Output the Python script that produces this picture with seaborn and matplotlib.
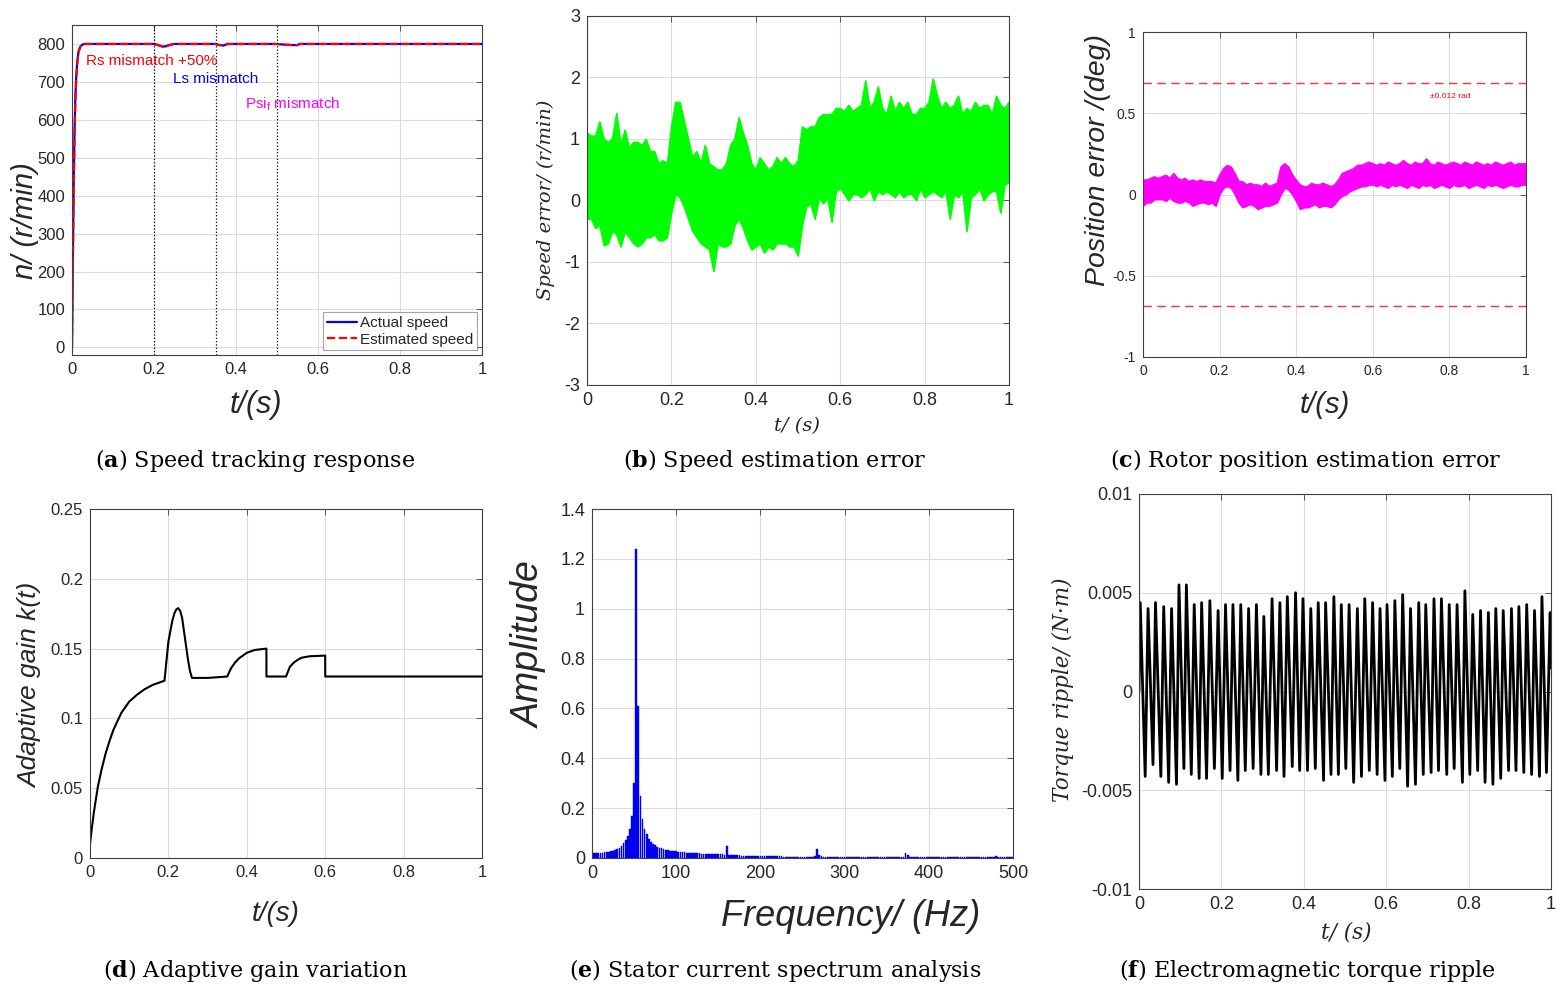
import numpy as np
import pandas as pd
import matplotlib
matplotlib.use("Agg")
import matplotlib.pyplot as plt
import seaborn as sns
from matplotlib.ticker import FuncFormatter

# ---- data ----
# (a) speed tracking
t_speed = [0, 0.002, 0.004, 0.006, 0.008, 0.010, 0.013, 0.016, 0.020, 0.025, 0.030, 0.040,
           0.200, 0.210, 0.220, 0.230, 0.240, 0.250,
           0.350, 0.360, 0.370, 0.380,
           0.500, 0.520, 0.540, 0.550, 0.555, 1.000]
actual_speed = [0, 230, 420, 560, 650, 710, 755, 780, 793, 798, 800, 800,
                800, 797, 793, 794, 798, 800,
                800, 797, 796, 800,
                800, 798, 797, 797, 800, 800]
estimated_speed = [0, 200, 390, 540, 640, 700, 750, 778, 792, 798, 800, 800,
                   800, 797, 794, 795, 798, 800,
                   800, 797, 797, 800,
                   800, 798, 797, 797, 800, 800]
event_times = [0.2, 0.35, 0.5]

# (b) speed error, upper / lower envelope every 0.01 s
t_env = np.round(np.linspace(0, 1, 101), 2)
speed_err_upper = [1.10, 1.05, 1.05, 1.28, 1.00, 0.95, 1.00, 1.42, 0.90, 1.15,
                   0.85, 0.95, 0.95, 0.90, 1.00, 0.80, 0.80, 0.60, 0.65, 0.60,
                   1.20, 1.60, 1.60, 1.30, 1.00, 0.70, 0.80, 0.60, 0.90, 0.60,
                   0.55, 0.50, 0.50, 0.60, 0.90, 1.00, 1.35, 1.10, 0.90, 0.60,
                   0.50, 0.70, 0.60, 0.50, 0.55, 0.70, 0.60, 0.70, 0.60, 0.55,
                   0.65, 1.20, 1.15, 1.20, 1.20, 1.35, 1.40, 1.40, 1.40, 1.50,
                   1.50, 1.45, 1.55, 1.45, 1.50, 1.55, 1.95, 1.50, 1.60, 1.85,
                   1.50, 1.40, 1.70, 1.45, 1.60, 1.50, 1.60, 1.40, 1.40, 1.50,
                   1.50, 1.60, 1.98, 1.70, 1.50, 1.60, 1.50, 1.55, 1.70, 1.40,
                   1.50, 1.45, 1.60, 1.50, 1.55, 1.55, 1.40, 1.70, 1.55, 1.50,
                   1.60]
speed_err_lower = [-0.30, -0.30, -0.45, -0.40, -0.73, -0.70, -0.50, -0.55, -0.75, -0.50,
                   -0.60, -0.70, -0.75, -0.70, -0.60, -0.60, -0.55, -0.65, -0.65, -0.60,
                   -0.20, 0.10, 0.05, -0.10, -0.30, -0.50, -0.60, -0.70, -0.75, -0.80,
                   -1.15, -0.70, -0.75, -0.75, -0.70, -0.40, -0.30, -0.45, -0.65, -0.80,
                   -0.75, -0.70, -0.85, -0.75, -0.80, -0.70, -0.70, -0.70, -0.75, -0.75,
                   -0.90, -0.40, -0.10, -0.05, -0.30, 0.05, -0.05, 0.05, -0.35, 0.15,
                   0.20, 0.10, 0.00, 0.10, 0.10, 0.05, 0.10, 0.20, 0.00, 0.15,
                   0.10, 0.15, 0.10, 0.05, 0.15, 0.05, 0.10, 0.10, 0.00, 0.20,
                   0.05, 0.10, 0.15, 0.10, 0.05, 0.15, -0.30, 0.10, 0.05, 0.15,
                   -0.50, 0.05, 0.10, 0.20, 0.00, 0.10, 0.15, 0.15, -0.20, 0.25,
                   0.30]

# (c) position error envelope every 0.01 s
pos_err_upper = [0.09, 0.09, 0.10, 0.11, 0.10, 0.11, 0.12, 0.10, 0.13, 0.10,
                 0.09, 0.10, 0.08, 0.09, 0.08, 0.09, 0.08, 0.08, 0.08, 0.07,
                 0.12, 0.16, 0.18, 0.17, 0.13, 0.08, 0.08, 0.06, 0.07, 0.06,
                 0.06, 0.05, 0.07, 0.05, 0.06, 0.07, 0.17, 0.19, 0.17, 0.12,
                 0.09, 0.06, 0.05, 0.05, 0.07, 0.06, 0.06, 0.07, 0.06, 0.05,
                 0.06, 0.09, 0.13, 0.14, 0.15, 0.16, 0.18, 0.18, 0.19, 0.20,
                 0.19, 0.18, 0.19, 0.18, 0.20, 0.19, 0.18, 0.19, 0.21, 0.19,
                 0.18, 0.20, 0.19, 0.19, 0.22, 0.19, 0.18, 0.20, 0.19, 0.18,
                 0.19, 0.20, 0.19, 0.18, 0.20, 0.19, 0.18, 0.20, 0.19, 0.18,
                 0.19, 0.18, 0.20, 0.19, 0.18, 0.19, 0.20, 0.18, 0.19, 0.19,
                 0.19]
pos_err_lower = [-0.07, -0.05, -0.05, -0.03, -0.03, -0.03, -0.04, -0.02, -0.04, -0.05,
                 -0.05, -0.04, -0.05, -0.07, -0.06, -0.05, -0.05, -0.06, -0.05, -0.07,
                 0.00, 0.04, 0.05, 0.04, 0.00, -0.05, -0.08, -0.07, -0.06, -0.07,
                 -0.09, -0.08, -0.07, -0.07, -0.06, -0.05, 0.00, 0.04, 0.03, 0.00,
                 -0.04, -0.09, -0.08, -0.08, -0.07, -0.06, -0.08, -0.07, -0.07, -0.08,
                 -0.06, -0.03, -0.01, 0.00, 0.02, 0.03, 0.04, 0.05, 0.05, 0.06,
                 0.06, 0.05, 0.06, 0.05, 0.04, 0.06, 0.05, 0.06, 0.05, 0.04,
                 0.06, 0.05, 0.04, 0.06, 0.05, 0.06, 0.04, 0.05, 0.06, 0.05,
                 0.04, 0.06, 0.05, 0.05, 0.06, 0.04, 0.05, 0.06, 0.05, 0.04,
                 0.06, 0.05, 0.06, 0.05, 0.04, 0.05, 0.06, 0.05, 0.05, 0.06,
                 0.06]
pos_limit = 0.6875  # 0.012 rad in deg

# (d) adaptive gain
t_gain = [0, 0.005, 0.01, 0.02, 0.03, 0.04, 0.05, 0.06, 0.07, 0.08, 0.09, 0.10, 0.12, 0.14, 0.16, 0.19,
          0.20, 0.21, 0.215, 0.22, 0.225, 0.23, 0.235, 0.24, 0.245, 0.25, 0.255, 0.26,
          0.30, 0.35, 0.36, 0.37, 0.38, 0.39, 0.40, 0.42, 0.45, 0.4501,
          0.50, 0.51, 0.52, 0.53, 0.54, 0.56, 0.60, 0.6001, 1.0]
gain = [0.010, 0.022, 0.033, 0.051, 0.064, 0.075, 0.084, 0.092, 0.098, 0.104, 0.108, 0.112, 0.117, 0.121, 0.124, 0.127,
        0.155, 0.170, 0.175, 0.178, 0.179, 0.177, 0.172, 0.162, 0.152, 0.142, 0.134, 0.129,
        0.129, 0.130, 0.136, 0.140, 0.143, 0.145, 0.147, 0.149, 0.150, 0.130,
        0.130, 0.137, 0.140, 0.142, 0.1435, 0.1445, 0.145, 0.130, 0.130]

# (e) stator current spectrum, 2.5 Hz bins 0..500 Hz
freq = np.arange(0, 500.1, 2.5)
amplitude = [0.020, 0.020, 0.020, 0.021, 0.021, 0.022, 0.023, 0.024, 0.025, 0.027,
             0.030, 0.033, 0.037, 0.042, 0.050, 0.060, 0.072, 0.088, 0.118, 0.170,
             0.300, 1.240, 0.610, 0.250, 0.158, 0.115, 0.095, 0.078, 0.066, 0.058,
             0.051, 0.046, 0.042, 0.039, 0.036, 0.034, 0.032, 0.030, 0.029, 0.028,
             0.027, 0.026, 0.025, 0.024, 0.023, 0.022, 0.022, 0.021, 0.020, 0.020,
             0.019, 0.019, 0.018, 0.018, 0.017, 0.017, 0.016, 0.016, 0.016, 0.015,
             0.015, 0.015, 0.015, 0.014, 0.048, 0.013, 0.012, 0.012, 0.011, 0.011,
             0.011, 0.010, 0.010, 0.010, 0.010, 0.009, 0.009, 0.009, 0.009, 0.009,
             0.008, 0.008, 0.008, 0.008, 0.007, 0.007, 0.007, 0.007, 0.007, 0.007,
             0.007, 0.006, 0.006, 0.006, 0.006, 0.006, 0.006, 0.006, 0.006, 0.005,
             0.005, 0.004, 0.003, 0.003, 0.003, 0.004, 0.010, 0.035, 0.012, 0.008,
             0.006, 0.006, 0.006, 0.005, 0.005, 0.005, 0.005, 0.005, 0.005, 0.005,
             0.005, 0.005, 0.004, 0.004, 0.004, 0.004, 0.004, 0.004, 0.004, 0.004,
             0.004, 0.004, 0.004, 0.004, 0.004, 0.004, 0.004, 0.003, 0.003, 0.003,
             0.003, 0.003, 0.003, 0.003, 0.003, 0.003, 0.003, 0.003, 0.003, 0.020,
             0.012, 0.006, 0.005, 0.004, 0.004, 0.004, 0.004, 0.004, 0.004, 0.004,
             0.004, 0.004, 0.003, 0.003, 0.003, 0.003, 0.003, 0.003, 0.003, 0.003,
             0.003, 0.003, 0.003, 0.003, 0.003, 0.003, 0.003, 0.003, 0.003, 0.003,
             0.003, 0.003, 0.003, 0.003, 0.003, 0.003, 0.003, 0.003, 0.003, 0.003,
             0.003, 0.003, 0.010, 0.003, 0.003, 0.003, 0.003, 0.003, 0.003, 0.003,
             0.003]

# (f) torque ripple peaks and troughs
peak_t = [0.003, 0.022, 0.040, 0.060, 0.079, 0.097, 0.115, 0.134, 0.152, 0.172,
          0.192, 0.210, 0.228, 0.247, 0.266, 0.285, 0.303, 0.323, 0.342, 0.360,
          0.380, 0.398, 0.417, 0.435, 0.453, 0.473, 0.491, 0.510, 0.530, 0.548,
          0.567, 0.585, 0.602, 0.621, 0.640, 0.659, 0.679, 0.696, 0.716, 0.734,
          0.753, 0.772, 0.791, 0.810, 0.829, 0.848, 0.866, 0.884, 0.904, 0.922,
          0.941, 0.960, 0.978, 0.998]
peak_v = [0.0045, 0.0042, 0.0045, 0.0043, 0.0042, 0.0054, 0.0054, 0.0044, 0.0045, 0.0046,
          0.0041, 0.0044, 0.0044, 0.0044, 0.0042, 0.0044, 0.0038, 0.0047, 0.0045, 0.0048,
          0.0050, 0.0047, 0.0042, 0.0045, 0.0045, 0.0048, 0.0044, 0.0044, 0.0042, 0.0047,
          0.0045, 0.0042, 0.0044, 0.0046, 0.0049, 0.0042, 0.0045, 0.0044, 0.0047, 0.0047,
          0.0044, 0.0044, 0.0051, 0.0039, 0.0041, 0.0040, 0.0042, 0.0041, 0.0042, 0.0043,
          0.0044, 0.0041, 0.0048, 0.0040]
trough_t = [0.015, 0.034, 0.053, 0.072, 0.091, 0.109, 0.127, 0.146, 0.164, 0.183,
            0.202, 0.221, 0.240, 0.258, 0.277, 0.296, 0.314, 0.334, 0.352, 0.372,
            0.390, 0.409, 0.428, 0.448, 0.466, 0.484, 0.502, 0.521, 0.540, 0.559,
            0.578, 0.597, 0.615, 0.633, 0.652, 0.671, 0.690, 0.709, 0.727, 0.747,
            0.765, 0.785, 0.803, 0.822, 0.840, 0.859, 0.878, 0.897, 0.915, 0.934,
            0.953, 0.972, 0.989]
trough_v = [-0.0043, -0.0037, -0.0043, -0.0046, -0.0047, -0.0039, -0.0042, -0.0044, -0.0044, -0.0039,
            -0.0044, -0.0040, -0.0045, -0.0040, -0.0039, -0.0042, -0.0042, -0.0040, -0.0043, -0.0038,
            -0.0040, -0.0040, -0.0039, -0.0045, -0.0042, -0.0042, -0.0039, -0.0046, -0.0043, -0.0040,
            -0.0042, -0.0045, -0.0043, -0.0039, -0.0048, -0.0047, -0.0042, -0.0041, -0.0040, -0.0042,
            -0.0039, -0.0046, -0.0042, -0.0040, -0.0046, -0.0047, -0.0044, -0.0040, -0.0040, -0.0041,
            -0.0042, -0.0043, -0.0041]
torque_ends_t = [0.0, 1.0]
torque_ends_v = [0.0, 0.0012]

captions = ["Speed tracking response", "Speed estimation error", "Rotor position estimation error",
            "Adaptive gain variation", "Stator current spectrum analysis", "Electromagnetic torque ripple"]
letters = ["a", "b", "c", "d", "e", "f"]

# ---- figure setup ----
W, H = 1564, 994
sns.set_theme(style="whitegrid")
plt.rcParams['font.family'] = ['Liberation Sans', 'DejaVu Sans']
plt.rcParams['mathtext.fontset'] = 'dejavuserif'

fig = plt.figure(figsize=(W / 100, H / 100), dpi=100)
fig.patch.set_facecolor('white')

# axes boxes in pixels: left, top, right, bottom
boxes = [(72, 25, 482, 355), (587, 16, 1009, 385), (1143, 32, 1526, 357),
         (90, 509, 482, 858), (592, 509, 1013, 858), (1139, 494, 1551, 889)]


def make_axes(box):
    l, t, r, b = box
    return fig.add_axes([l / W, 1 - b / H, (r - l) / W, (b - t) / H])


def style(ax, xlim, ylim, xticks, yticks, fs):
    ax.set_facecolor('white')
    ax.set_xlim(xlim)
    ax.set_ylim(ylim)
    ax.set_xticks(xticks)
    ax.set_yticks(yticks)
    fmt = FuncFormatter(lambda v, p: f"{round(v, 6):g}")
    ax.xaxis.set_major_formatter(fmt)
    ax.yaxis.set_major_formatter(fmt)
    ax.tick_params(direction='in', length=4, width=0.6, top=True, right=True,
                   labelsize=fs, color='#404040', labelcolor='#262626', pad=5)
    ax.grid(True, color='#dcdcdc', lw=0.8)
    for s in ax.spines.values():
        s.set_visible(True)
        s.set_color('#404040')
        s.set_linewidth(0.8)


def labels(ax, box, xlab, xl_pos, ylab, yl_pos, xfont, yfont):
    l, t, r, b = box
    ax.set_xlabel(xlab, **xfont)
    ax.set_ylabel(ylab, **yfont)
    ax.xaxis.set_label_coords((xl_pos[0] - l) / (r - l), (b - xl_pos[1]) / (b - t))
    ax.yaxis.set_label_coords((yl_pos[0] - l) / (r - l), (b - yl_pos[1]) / (b - t))
    ax.xaxis.label.set_va('center')
    ax.yaxis.label.set_va('center')
    ax.yaxis.label.set_ha('center')


sans_it = dict(family=['Liberation Sans', 'DejaVu Sans'], style='italic', color='#262626')
serif_it = dict(family=['DejaVu Serif'], style='italic', color='#262626', size=14)
t_ticks = [0, 0.2, 0.4, 0.6, 0.8, 1]

# (a) speed tracking
ax = make_axes(boxes[0])
sns.lineplot(x=t_speed, y=actual_speed, ax=ax, color='blue', lw=1.6, estimator=None, label='Actual speed')
sns.lineplot(x=t_speed, y=estimated_speed, ax=ax, color='red', lw=1.6, linestyle='--', estimator=None,
             label='Estimated speed')
for ev in event_times:
    ax.axvline(ev, color='black', ls=':', lw=0.9)
style(ax, (0, 1), (-20, 850), t_ticks, range(0, 801, 100), 12)
ax.text(0.033, 755, 'Rs mismatch +50%', color='red', fontsize=11, va='center')
ax.text(0.246, 708, 'Ls mismatch', color='blue', fontsize=11, va='center')
ax.text(0.423, 640, r'Psi$_\mathregular{f}$ mismatch', color='magenta', fontsize=11, va='center')
leg = ax.legend(loc='lower right', fontsize=11, frameon=True, fancybox=False, handlelength=2.0,
                handletextpad=0.2, borderpad=0.25, labelspacing=0.15, borderaxespad=0.3)
leg.get_frame().set_edgecolor('#8c8c8c')
leg.get_frame().set_linewidth(0.8)
labels(ax, boxes[0], 't/(s)', (256, 405), 'n/ (r/min)', (25, 221),
       dict(sans_it, size=22), dict(sans_it, size=21))

# (b) speed estimation error
ax = make_axes(boxes[1])
ax.fill_between(t_env, speed_err_lower, speed_err_upper, color='#00ff00', lw=0.8)
sns.lineplot(x=t_env, y=speed_err_upper, ax=ax, color='#00ff00', lw=0.8, estimator=None)
sns.lineplot(x=t_env, y=speed_err_lower, ax=ax, color='#00ff00', lw=0.8, estimator=None)
style(ax, (0, 1), (-3, 3), t_ticks, range(-3, 4), 13)
labels(ax, boxes[1], 't/ (s)', (797, 426), 'Speed error/ (r/min)', (546, 200), serif_it, serif_it)

# (c) rotor position error
ax = make_axes(boxes[2])
ax.fill_between(t_env, pos_err_lower, pos_err_upper, color='magenta', lw=0.8)
sns.lineplot(x=t_env, y=pos_err_upper, ax=ax, color='magenta', lw=0.8, estimator=None)
sns.lineplot(x=t_env, y=pos_err_lower, ax=ax, color='magenta', lw=0.8, estimator=None)
ax.axhline(pos_limit, color='#ff3030', ls=(0, (6, 4)), lw=1.0)
ax.axhline(-pos_limit, color='#ff3030', ls=(0, (6, 4)), lw=1.0)
ax.text(0.803, 0.6, '±0.012 rad', color='red', fontsize=6, ha='center', va='center')
style(ax, (0, 1), (-1, 1), t_ticks, [-1, -0.5, 0, 0.5, 1], 10)
labels(ax, boxes[2], 't/(s)', (1325, 405), 'Position error /(deg)', (1098, 160),
       dict(sans_it, size=21), dict(sans_it, size=20.5))

# (d) adaptive gain
ax = make_axes(boxes[3])
sns.lineplot(x=t_gain, y=gain, ax=ax, color='black', lw=1.5, estimator=None, sort=False)
style(ax, (0, 1), (0, 0.25), t_ticks, [0, 0.05, 0.1, 0.15, 0.2, 0.25], 12)
labels(ax, boxes[3], 't/(s)', (276, 914), 'Adaptive gain k(t)', (30, 685),
       dict(sans_it, size=20), dict(sans_it, size=19))

# (e) spectrum
ax = make_axes(boxes[4])
ax.bar(freq, amplitude, width=2.0, color='#0000ff', edgecolor='#0000dd', lw=0.3)
style(ax, (0, 500), (0, 1.4), range(0, 501, 100), [0, 0.2, 0.4, 0.6, 0.8, 1, 1.2, 1.4], 13)
labels(ax, boxes[4], 'Frequency/ (Hz)', (851, 917), 'Amplitude', (530, 645),
       dict(sans_it, size=26), dict(sans_it, size=27))

# (f) torque ripple
tq = pd.DataFrame({'t': peak_t + trough_t + torque_ends_t,
                   'v': peak_v + trough_v + torque_ends_v}).sort_values('t')
ax = make_axes(boxes[5])
sns.lineplot(data=tq, x='t', y='v', ax=ax, color='black', lw=2.0, estimator=None)
style(ax, (0, 1), (-0.01, 0.01), t_ticks, [-0.01, -0.005, 0, 0.005, 0.01], 13)
labels(ax, boxes[5], 't/ (s)', (1346, 932), 'Torque ripple/ (N·m)', (1063, 690),
       dict(serif_it, size=15.5), dict(serif_it, size=15.5))

# captions
cap_x = [255, 775, 1306, 255, 775, 1307]
cap_y = [461, 461, 461, 970, 970, 970]
for cx, cy, let, cap in zip(cap_x, cap_y, letters, captions):
    fig.text(cx / W, 1 - cy / H, rf"($\mathbf{{{let}}}$) {cap}", family='DejaVu Serif', size=16,
             ha='center', va='center', color='black')

fig.savefig('out.png', dpi=100)
